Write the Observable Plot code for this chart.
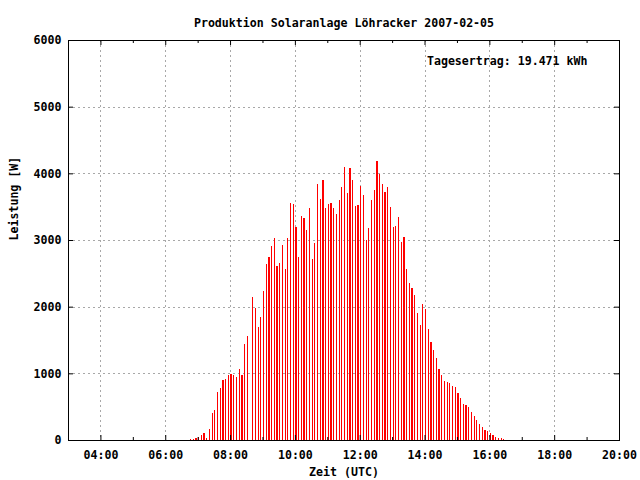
<!DOCTYPE html>
<html><head><meta charset="utf-8">
<script src="https://cdn.jsdelivr.net/npm/d3@7"></script>
<script src="https://cdn.jsdelivr.net/npm/@observablehq/plot@0.6"></script>
<style>body{margin:0;background:#fff} svg{display:block}</style>
</head><body><div id="chart"></div>
<script>
const title = "Produktion Solaranlage Löhracker 2007-02-05";
const xLabel = "Zeit (UTC)";
const yLabel = "Leistung [W]";
const yieldText = "Tagesertrag: 19.471 kWh";

// 5-minute samples starting at 06:46 UTC (null = no sample)
const startHour = 6 + 46 / 60;
const stepMinutes = 5;
const power = [
  15, 15, 30, 45, 75, 105, 30, 165, 405, 450,
  720, 780, 900, 915, 975, 990, 975, 945, 1065, 975,
  1440, 1560, null, 2145, 1980, 1695, 1845, 2235, 2640, 2745,
  2910, 3030, 2610, 2655, 2925, 2565, 3030, 3555, 3540, 3195,
  2745, 3360, 3330, 3150, 3480, 2715, 2955, 3840, 3615, 3900,
  3480, 3540, 3555, 3480, 3390, 3600, 3795, 4095, 3705, 4080,
  3900, 3510, 3525, 3810, 3675, 3000, 3180, 3600, 3750, 4185,
  3990, 3840, 3720, 3795, 3495, 3195, 3210, 3345, 2970, 3045,
  2565, 2355, 2280, 2175, 1905, 1725, 2040, 1965, 1665, 1470,
  1350, 1230, 1065, 975, 885, 870, 855, 810, 795, 705,
  630, 540, 525, 495, 420, 360, 300, 240, 195, 150,
  135, 105, 75, 45, 30, 30, 15
];

const xTicks = [4, 6, 8, 10, 12, 14, 16, 18, 20];
const xTickLabels = ["04:00", "06:00", "08:00", "10:00", "12:00", "14:00", "16:00", "18:00", "20:00"];
const xMinorTicks = [5, 7, 9, 11, 13, 15, 17, 19];
const yTicks = [0, 1000, 2000, 3000, 4000, 5000, 6000];
const yTickLabels = ["0", "1000", "2000", "3000", "4000", "5000", "6000"];

const data = power
  .map((w, i) => ({t: startHour + i * stepMinutes / 60, w}))
  .filter(d => d.w != null);

const font = {fontFamily: "DejaVu Sans Mono", fontWeight: "bold", fontSize: 11.6, fill: "black"};
const W = 640, H = 480, mL = 68, mR = 21, mT = 40, mB = 40;
const fw = W - mL - mR, fh = H - mT - mB;
const grid = {stroke: "#a8a8a8", strokeOpacity: 1, strokeDasharray: "2,3", shapeRendering: "crispEdges"};

const chart = Plot.plot({
  width: W, height: H,
  marginLeft: mL, marginRight: mR, marginTop: mT, marginBottom: mB,
  x: {domain: [3, 20], axis: null},
  y: {domain: [0, 6000], axis: null},
  style: {background: "white"},
  marks: [
    Plot.gridX(xTicks.filter(t => t < 20), grid),
    Plot.gridY(yTicks.filter(v => v > 0 && v < 6000), grid),
    Plot.ruleX(data, {x: "t", y1: 0, y2: "w", stroke: "#ff0000", strokeWidth: 1.2, shapeRendering: "crispEdges"}),
    Plot.ruleX(xTicks, {x: d => d, insetTop: fh - 5, stroke: "black"}),
    Plot.ruleX(xTicks, {x: d => d, insetBottom: fh - 5, stroke: "black"}),
    Plot.ruleX(xMinorTicks, {x: d => d, insetTop: fh - 3, stroke: "black"}),
    Plot.ruleX(xMinorTicks, {x: d => d, insetBottom: fh - 3, stroke: "black"}),
    Plot.ruleY(yTicks, {y: d => d, insetRight: fw - 5, stroke: "black"}),
    Plot.ruleY(yTicks, {y: d => d, insetLeft: fw - 5, stroke: "black"}),
    Plot.frame({stroke: "black"}),
    Plot.text(xTicks, {x: d => d, text: (d, i) => xTickLabels[i], frameAnchor: "bottom", dy: 18, ...font}),
    Plot.text(yTicks, {y: d => d, text: (d, i) => yTickLabels[i], frameAnchor: "left", dx: -7, textAnchor: "end", ...font}),
    Plot.text([title], {frameAnchor: "top", dy: -22, ...font}),
    Plot.text([yieldText], {frameAnchor: "top-right", dx: -32, dy: 16, textAnchor: "end", ...font}),
    Plot.text([xLabel], {frameAnchor: "bottom", dy: 35, ...font}),
    Plot.text([yLabel], {frameAnchor: "left", dx: -54, rotate: -90, ...font})
  ]
});
document.getElementById("chart").appendChild(chart);
</script>
</body></html>
